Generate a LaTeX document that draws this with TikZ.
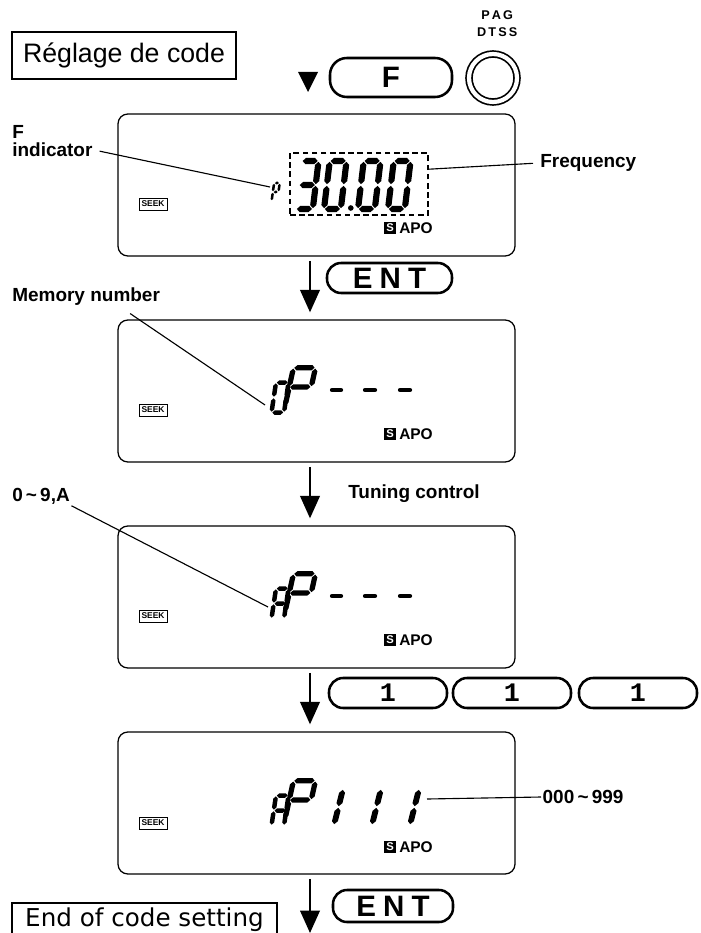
\documentclass[tikz,border=0pt]{standalone}
\usepackage{fontspec}
\setmainfont{Liberation Sans}
\newfontfamily\gsfont{DejaVu Sans}
\newfontfamily\numfont{Liberation Mono}
\usepackage{tikz}
\usetikzlibrary{arrows.meta, calc}

\tikzset{
  segw/.initial=2pt,
  pics/lcd/.style={code={
    \pgfmathsetlengthmacro\hh{\pgfkeysvalueof{/tikz/segw}/2}
    \pgfmathsetlengthmacro\gA{\hh+0.6pt}
    \coordinate (sega1) at (0,2); \coordinate (sega2) at (1,2);
    \coordinate (segb1) at (1,2); \coordinate (segb2) at (1,1);
    \coordinate (segc1) at (1,1); \coordinate (segc2) at (1,0);
    \coordinate (segd1) at (0,0); \coordinate (segd2) at (1,0);
    \coordinate (sege1) at (0,0); \coordinate (sege2) at (0,1);
    \coordinate (segf1) at (0,1); \coordinate (segf2) at (0,2);
    \coordinate (segg1) at (0,1); \coordinate (segg2) at (1,1);
    \foreach \s in {#1} {
      \coordinate (segm1) at ($(seg\s1)!\gA!(seg\s2)$);
      \coordinate (segm2) at ($(seg\s2)!\gA!(seg\s1)$);
      \fill ($(seg\s1)!0.6pt!(seg\s2)$) -- ($(segm1)!\hh!90:(seg\s2)$) -- ($(segm2)!\hh!-90:(seg\s1)$)
        -- ($(seg\s2)!0.6pt!(seg\s1)$) -- ($(segm2)!\hh!90:(seg\s1)$) -- ($(segm1)!\hh!-90:(seg\s2)$) -- cycle;
    }
  }}
}

\begin{document}
\begin{tikzpicture}[
  panel/.style={rectangle, draw, line width=0.9pt, rounded corners=7pt, minimum width=9.925cm, minimum height=3.55cm},
  btn/.style={rectangle, draw, line width=1.8pt, rounded corners=10pt, inner sep=1pt, minimum height=0.75cm, font=\fontsize{21}{21}\selectfont\bfseries},
  numbtn/.style={btn, minimum width=2.95cm, font=\fontsize{19}{19}\selectfont\numfont\bfseries},
  heading/.style={rectangle, draw, line width=0.9pt, inner sep=1pt},
  lbl/.style={anchor=west, inner sep=1pt, font=\fontsize{13.5}{15}\selectfont\bfseries},
  leader/.style={line width=0.8pt},
  flow/.style={-{Triangle[width=14pt,length=16pt]}, line width=1.4pt, shorten <=3pt, shorten >=5pt},
  seek/.style={draw, line width=0.6pt, inner sep=0pt, minimum width=0.7cm, minimum height=0.3cm, font=\fontsize{6}{6}\selectfont\bfseries},
  sbox/.style={fill=black, text=white, inner sep=0pt, minimum size=0.3cm, font=\fontsize{8}{8}\selectfont\bfseries},
  apo/.style={inner sep=0pt, font=\fontsize{11}{11}\selectfont\bfseries},
  bigdig/.style={x=0.42cm, y=0.6cm, xslant=0.12, segw=4.4pt},
  smalldig/.style={x=0.3125cm, y=0.375cm, xslant=0.15, segw=3.2pt},
  pdig/.style={x=0.55cm, y=0.481cm, xslant=0.22, segw=3.8pt},
  onedig/.style={x=0.5cm, y=0.45cm, xslant=0.25, segw=4.2pt},
  tinydig/.style={x=0.14cm, y=0.225cm, xslant=0.14, segw=1.8pt},
  dashseg/.style={line width=3pt, line cap=round}
]
\useasboundingbox (0,0) rectangle (17.525,-23.325);
\coordinate (axis) at (7.75,0);
% top row
\node[heading, minimum width=5.6cm, minimum height=1.175cm, font=\fontsize{19}{19}\selectfont] (start) at (3.1,-1.3875) {Réglage de code};
\fill (7.45,-1.8) -- (7.95,-1.8) -- (7.7,-2.3) -- cycle;
\node[btn, minimum width=3.05cm, minimum height=0.975cm, rounded corners=12pt] (fkey) at (9.775,-1.9375) {F};
\node[circle, draw, line width=1.2pt, double, double distance=3pt, minimum size=1.2cm] (dtss) at (12.325,-1.95) {};
\node[align=center, font=\fontsize{9}{12}\selectfont\bfseries] (paglab) at (12.43,-0.59) {P\,A\,G\\D\,T\,S\,S};
% displays
\node[panel] (disp1) at (7.9125,-4.625) {};
\node[panel] (disp2) at (7.9125,-9.775) {};
\node[panel] (disp3) at (7.9125,-14.925) {};
\node[panel] (disp4) at (7.9125,-20.075) {};
% display 1
\node[draw, line width=0.8pt, dash pattern=on 4pt off 2.5pt, minimum width=3.45cm, minimum height=1.55cm] (fbox) at (8.975,-4.6) {};
\path (7.4,-5.225) pic[bigdig] {lcd={a,b,c,d,g}};
\path (8.1,-5.225) pic[bigdig] {lcd={a,b,c,d,e,f}};
\fill (8.77,-5.2) circle (0.07);
\path (8.95,-5.225) pic[bigdig] {lcd={a,b,c,d,e,f}};
\path (9.7,-5.225) pic[bigdig] {lcd={a,b,c,d,e,f}};
\path (6.79,-5.025) pic[tinydig] {lcd={a,b,e,f,g}};
\coordinate (fglyph) at (6.75,-4.675);
\node[seek] (seek1) at (3.825,-5.1) {SEEK};
\node[sbox] (s1) at (9.75,-5.7) {S};
\node[apo] (apo1) at (10.4,-5.7) {APO};
\node[lbl] (findF) at (0.265,-3.3) {F};
\node[lbl] (find) at (0.265,-3.75) {indicator};
\node[lbl] (freq) at (13.465,-4.075) {Frequency};
\draw[leader, shorten <=4pt] (find.east) -- (fglyph);
\draw[leader, shorten >=4pt] (fbox.12) -- (freq.west);
% display 2
\path (6.7875,-10.3125) pic[smalldig] {lcd={a,b,c,d,e,f}};
\path (7.125,-10.156) pic[pdig] {lcd={a,b,e,f,g}};
\draw[dashseg] (8.3,-9.75) -- (8.525,-9.75);
\draw[dashseg] (9.125,-9.75) -- (9.375,-9.75);
\draw[dashseg] (10.0,-9.75) -- (10.25,-9.75);
\coordinate (mem0) at (6.625,-10.125);
\node[seek] (seek2) at (3.825,-10.25) {SEEK};
\node[sbox] (s2) at (9.75,-10.85) {S};
\node[apo] (apo2) at (10.4,-10.85) {APO};
\node[lbl] (memlab) at (0.265,-7.425) {Memory number};
\draw[leader] (memlab.south) ++(1.1,-0.15) -- (mem0);
% display 3
\path (6.7875,-15.4625) pic[smalldig] {lcd={a,b,c,e,f,g}};
\path (7.125,-15.306) pic[pdig] {lcd={a,b,e,f,g}};
\draw[dashseg] (8.3,-14.9) -- (8.525,-14.9);
\draw[dashseg] (9.125,-14.9) -- (9.375,-14.9);
\draw[dashseg] (10.0,-14.9) -- (10.25,-14.9);
\coordinate (selA) at (6.7,-15.175);
\node[seek] (seek3) at (3.825,-15.4) {SEEK};
\node[sbox] (s3) at (9.75,-16.0) {S};
\node[apo] (apo3) at (10.4,-16.0) {APO};
\node[lbl] (sellab) at (0.265,-12.4) {0\,\textasciitilde\,9,A};
\node[lbl] (tune) at (8.665,-12.35) {Tuning control};
\draw[leader] (sellab.south east) -- (selA);
% display 4
\path (6.7875,-20.6375) pic[smalldig] {lcd={a,b,c,e,f,g}};
\path (7.125,-20.48) pic[pdig] {lcd={a,b,e,f,g}};
\path (7.85,-20.625) pic[onedig] {lcd={b,c}};
\path (8.8,-20.625) pic[onedig] {lcd={b,c}};
\path (9.75,-20.625) pic[onedig] {lcd={b,c}};
\coordinate (r0) at (10.675,-19.975);
\node[seek] (seek4) at (3.825,-20.575) {SEEK};
\node[sbox] (s4) at (9.75,-21.175) {S};
\node[apo] (apo4) at (10.4,-21.175) {APO};
\node[lbl] (rangelab) at (13.525,-19.925) {000\,\textasciitilde\,999};
\draw[leader] (r0) -- (rangelab.west);
% keys and steps
\node[btn, minimum width=3.125cm] (ent1) at (9.7375,-6.95) {E\kern5pt N\kern5pt T};
\node[numbtn] (k1) at (9.7,-17.325) {1};
\node[numbtn] (k2) at (12.8,-17.325) {1};
\node[numbtn] (k3) at (15.95,-17.325) {1};
\node[btn, minimum width=3.0cm, minimum height=0.8cm] (ent2) at (9.825,-22.65) {E\kern5pt N\kern5pt T};
\node[heading, minimum width=6.625cm, minimum height=0.85cm, font=\gsfont\fontsize{17.5}{17.5}\selectfont] (finish) at (3.6125,-23.0) {End of code setting};
\coordinate (fin) at (7.75,-23.325);
\draw[flow] (disp1.south -| axis) -- (disp2.north -| axis);
\draw[flow] (disp2.south -| axis) -- (disp3.north -| axis);
\draw[flow] (disp3.south -| axis) -- (disp4.north -| axis);
\draw[flow, shorten >=0pt] (disp4.south -| axis) -- (fin);
\end{tikzpicture}
\end{document}
